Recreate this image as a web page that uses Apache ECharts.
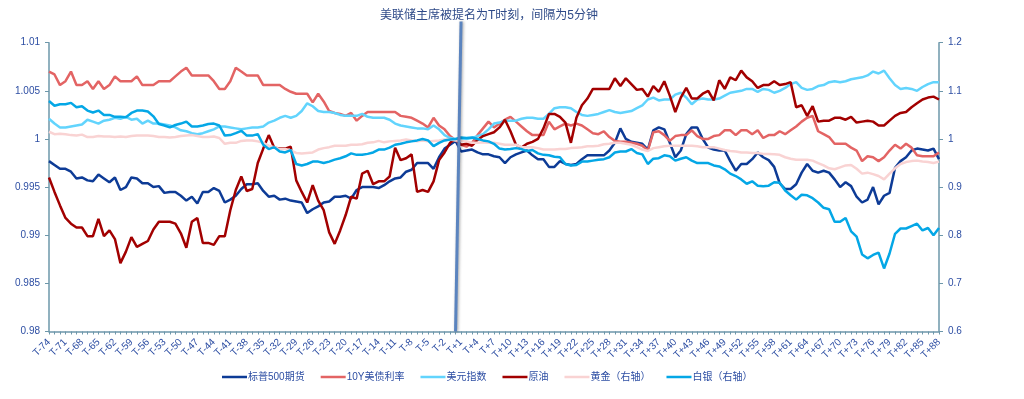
<!DOCTYPE html>
<html>
<head>
<meta charset="utf-8">
<title>美联储主席被提名前后各资产走势</title>
<script src="https://cdn.jsdelivr.net/npm/echarts@6/dist/echarts.min.js"></script>
<style>
  html, body { margin: 0; padding: 0; background: #fff; }
  #chart { width: 1024px; height: 399px; }
</style>
</head>
<body>
<div id="chart"></div>
<script>
// 时间轴：T-74 ... T ... T+88，每格5分钟
const offsets = []
for (let k = -74; k <= 88; k++) offsets.push(k)
const categories = offsets.map(k => (k === 0 ? 'T' : (k > 0 ? 'T+' + k : 'T' + k)))

// 左轴
const sp500 = [
  0.9977, 0.9973, 0.9969, 0.9969, 0.9966, 0.9959, 0.9960, 0.9957, 0.9956, 0.9963,
  0.9959, 0.9955, 0.9960, 0.9947, 0.9950, 0.9960, 0.9959, 0.9954, 0.9954, 0.9950,
  0.9951, 0.9944, 0.9945, 0.9945, 0.9941, 0.9936, 0.9940, 0.9933, 0.9945, 0.9945,
  0.9949, 0.9946, 0.9934, 0.9937, 0.9941, 0.9948, 0.9953, 0.9953, 0.9954, 0.9946,
  0.9940, 0.9941, 0.9937, 0.9938, 0.9936, 0.9935, 0.9934, 0.9923, 0.9927, 0.9930,
  0.9934, 0.9935, 0.9940, 0.9940, 0.9941, 0.9938, 0.9947, 0.9950, 0.9950, 0.9950,
  0.9949, 0.9952, 0.9956, 0.9959, 0.9960, 0.9966, 0.9968, 0.9975, 0.9975, 0.9975,
  0.9969, 0.9981, 0.9990, 0.9994, 0.9998, 0.9987, 0.9988, 0.9989, 0.9986, 0.9984,
  0.9984, 0.9982, 0.9981, 0.9975, 0.9981, 0.9984, 0.9986, 0.9988, 0.9983, 0.9979,
  0.9979, 0.9971, 0.9971, 0.9977, 0.9974, 0.9973, 0.9974, 0.9979, 0.9983, 0.9983,
  0.9983, 0.9983, 0.9988, 0.9996, 1.0011, 1.0000, 0.9997, 0.9996, 0.9995, 0.9989,
  1.0009, 1.0012, 1.0010, 0.9996, 0.9981, 0.9988, 1.0005, 1.0012, 1.0012, 1.0000,
  0.9991, 0.9989, 0.9988, 0.9988, 0.9977, 0.9967, 0.9974, 0.9974, 0.9979, 0.9986,
  0.9981, 0.9978, 0.9971, 0.9954, 0.9948, 0.9948, 0.9953, 0.9965, 0.9974, 0.9967,
  0.9965, 0.9967, 0.9965, 0.9958, 0.9950, 0.9955, 0.9951, 0.9940, 0.9934, 0.9937,
  0.9950, 0.9932, 0.9941, 0.9944, 0.9970, 0.9977, 0.9981, 0.9988, 0.9990, 0.9989,
  0.9988, 0.9990, 0.9979
]
const us10y = [
  1.0070, 1.0067, 1.0056, 1.0060, 1.0070, 1.0056, 1.0056, 1.0060, 1.0052, 1.0060,
  1.0052, 1.0056, 1.0065, 1.0060, 1.0060, 1.0060, 1.0065, 1.0056, 1.0056, 1.0056,
  1.0060, 1.0060, 1.0060, 1.0065, 1.0070, 1.0074, 1.0066, 1.0066, 1.0066, 1.0066,
  1.0060, 1.0052, 1.0052, 1.0060, 1.0074, 1.0070, 1.0066, 1.0066, 1.0066, 1.0056,
  1.0056, 1.0056, 1.0056, 1.0052, 1.0049, 1.0047, 1.0047, 1.0047, 1.0038, 1.0047,
  1.0039, 1.0029, 1.0027, 1.0026, 1.0024, 1.0027, 1.0019, 1.0024, 1.0028, 1.0028,
  1.0028, 1.0028, 1.0028, 1.0028, 1.0024, 1.0023, 1.0022, 1.0019, 1.0016, 1.0012,
  1.0022, 1.0014, 1.0010, 1.0003, 0.9999, 0.9994, 0.9992, 0.9996, 1.0004, 1.0011,
  1.0018, 1.0012, 1.0016, 1.0020, 1.0023, 1.0018, 1.0013, 1.0008, 1.0004, 1.0004,
  1.0004, 1.0018, 1.0010, 1.0013, 1.0016, 1.0014, 1.0016, 1.0014, 1.0010, 1.0006,
  1.0005, 1.0008, 1.0002, 0.9998, 0.9997, 0.9997, 0.9996, 0.9995, 0.9993, 0.9988,
  1.0007, 1.0008, 1.0004, 0.9998, 1.0003, 1.0004, 1.0004, 1.0009, 1.0003, 1.0000,
  1.0000, 1.0003, 1.0004, 1.0009, 1.0009, 1.0004, 1.0009, 1.0009, 1.0005, 1.0009,
  1.0001, 1.0004, 1.0004, 1.0008, 1.0005, 1.0009, 1.0013, 1.0018, 1.0022, 1.0024,
  1.0008, 1.0005, 1.0002, 0.9995, 0.9995, 0.9995, 0.9991, 0.9988, 0.9977, 0.9982,
  0.9981, 0.9977, 0.9981, 0.9988, 0.9994, 0.9990, 0.9995, 0.9991, 0.9983, 0.9982,
  0.9982, 0.9982, 0.9986
]
const usd = [
  1.0021, 1.0016, 1.0012, 1.0012, 1.0013, 1.0014, 1.0015, 1.0020, 1.0018, 1.0016,
  1.0019, 1.0020, 1.0022, 1.0021, 1.0023, 1.0020, 1.0021, 1.0016, 1.0019, 1.0016,
  1.0016, 1.0015, 1.0014, 1.0012, 1.0009, 1.0008, 1.0006, 1.0005, 1.0006, 1.0008,
  1.0010, 1.0013, 1.0013, 1.0012, 1.0011, 1.0010, 1.0011, 1.0012, 1.0012, 1.0013,
  1.0017, 1.0019, 1.0022, 1.0024, 1.0022, 1.0024, 1.0029, 1.0037, 1.0034, 1.0029,
  1.0028, 1.0028, 1.0027, 1.0025, 1.0024, 1.0024, 1.0024, 1.0026, 1.0023, 1.0022,
  1.0022, 1.0022, 1.0020, 1.0016, 1.0014, 1.0013, 1.0012, 1.0011, 1.0011, 1.0010,
  1.0014, 1.0010, 1.0004, 1.0001, 1.0000, 1.0000, 1.0000, 1.0001, 1.0003, 1.0005,
  1.0010, 1.0016, 1.0017, 1.0019, 1.0019, 1.0019, 1.0021, 1.0022, 1.0022, 1.0021,
  1.0021, 1.0026, 1.0032, 1.0033, 1.0033, 1.0032, 1.0028, 1.0025, 1.0024, 1.0025,
  1.0026, 1.0028, 1.0030, 1.0028, 1.0027, 1.0028, 1.0029, 1.0032, 1.0035, 1.0041,
  1.0043, 1.0040, 1.0041, 1.0041, 1.0046, 1.0048, 1.0043, 1.0036, 1.0041, 1.0042,
  1.0041, 1.0041, 1.0042, 1.0045, 1.0048, 1.0049, 1.0050, 1.0052, 1.0052, 1.0049,
  1.0052, 1.0051, 1.0048, 1.0050, 1.0053, 1.0057, 1.0059, 1.0053, 1.0051, 1.0052,
  1.0055, 1.0056, 1.0059, 1.0060, 1.0059, 1.0060, 1.0062, 1.0063, 1.0064, 1.0066,
  1.0070, 1.0068, 1.0071, 1.0063, 1.0056, 1.0052, 1.0053, 1.0052, 1.0050, 1.0054,
  1.0057, 1.0059, 1.0059
]
const crude = [
  0.9960, 0.9945, 0.9931, 0.9918, 0.9912, 0.9908, 0.9908, 0.9899, 0.9899, 0.9917,
  0.9899, 0.9905, 0.9896, 0.9871, 0.9883, 0.9898, 0.9888, 0.9891, 0.9894, 0.9906,
  0.9914, 0.9914, 0.9914, 0.9912, 0.9902, 0.9887, 0.9914, 0.9918, 0.9892, 0.9892,
  0.9890, 0.9899, 0.9899, 0.9926, 0.9947, 0.9961, 0.9946, 0.9948, 0.9975, 0.9990,
  1.0004, 0.9991, 0.9990, 0.9990, 0.9992, 0.9957, 0.9945, 0.9934, 0.9952, 0.9936,
  0.9926, 0.9903, 0.9891, 0.9905, 0.9921, 0.9940, 0.9938, 0.9964, 0.9967, 0.9953,
  0.9956, 0.9956, 0.9961, 0.9991, 0.9978, 0.9980, 0.9984, 0.9945, 0.9947, 0.9945,
  0.9956, 0.9978, 0.9986, 0.9996, 1.0000, 0.9994, 0.9995, 0.9993, 0.9999, 1.0003,
  1.0005, 1.0007, 1.0012, 1.0020, 1.0008, 0.9994, 0.9991, 0.9995, 0.9997, 1.0000,
  1.0011, 1.0026, 1.0026, 1.0023, 1.0017, 0.9996, 1.0022, 1.0035, 1.0042, 1.0052,
  1.0052, 1.0052, 1.0052, 1.0063, 1.0055, 1.0063, 1.0057, 1.0051, 1.0052, 1.0044,
  1.0055, 1.0049, 1.0060, 1.0045, 1.0028, 1.0043, 1.0053, 1.0042, 1.0042, 1.0047,
  1.0050, 1.0040, 1.0061, 1.0052, 1.0064, 1.0061, 1.0071, 1.0064, 1.0060, 1.0053,
  1.0056, 1.0056, 1.0060, 1.0056, 1.0057, 1.0059, 1.0033, 1.0035, 1.0024, 1.0034,
  1.0018, 1.0019, 1.0019, 1.0022, 1.0022, 1.0020, 1.0023, 1.0017, 1.0018, 1.0019,
  1.0018, 1.0014, 1.0014, 1.0019, 1.0024, 1.0027, 1.0028, 1.0033, 1.0037, 1.0041,
  1.0043, 1.0044, 1.0041
]
// 右轴
const gold = [
  1.015, 1.010, 1.011, 1.010, 1.008, 1.007, 1.009, 1.004, 1.004, 1.006,
  1.005, 1.005, 1.004, 1.005, 1.004, 1.006, 1.007, 1.007, 1.007, 1.006,
  1.004, 1.004, 1.003, 1.004, 1.006, 1.007, 1.008, 1.006, 1.004, 1.004,
  1.005, 1.002, 0.990, 0.992, 0.992, 0.996, 0.997, 0.997, 0.995, 0.992,
  0.986, 0.983, 0.979, 0.979, 0.976, 0.971, 0.970, 0.971, 0.972, 0.978,
  0.981, 0.983, 0.986, 0.986, 0.986, 0.988, 0.988, 0.989, 0.992, 0.993,
  0.996, 0.993, 0.995, 0.996, 0.997, 0.999, 0.997, 0.995, 0.997, 0.995,
  0.996, 0.997, 0.999, 0.999, 0.997, 0.996, 0.995, 0.992, 0.992, 0.993,
  0.992, 0.992, 0.990, 0.988, 0.988, 0.988, 0.983, 0.983, 0.983, 0.981,
  0.978, 0.978, 0.978, 0.979, 0.979, 0.981, 0.982, 0.983, 0.985, 0.985,
  0.986, 0.989, 0.990, 0.992, 0.992, 0.990, 0.988, 0.983, 0.978, 0.975,
  0.981, 0.983, 0.985, 0.986, 0.986, 0.986, 0.986, 0.986, 0.985, 0.983,
  0.983, 0.983, 0.980, 0.977, 0.975, 0.974, 0.972, 0.972, 0.971, 0.971,
  0.969, 0.969, 0.968, 0.967, 0.962, 0.959, 0.957, 0.957, 0.957, 0.955,
  0.950, 0.945, 0.939, 0.937, 0.941, 0.945, 0.946, 0.938, 0.928, 0.930,
  0.927, 0.923, 0.916, 0.928, 0.939, 0.948, 0.952, 0.954, 0.955, 0.953,
  0.952, 0.950, 0.953
]
const silver = [
  1.079, 1.069, 1.072, 1.072, 1.075, 1.066, 1.068, 1.059, 1.055, 1.059,
  1.050, 1.050, 1.046, 1.046, 1.045, 1.054, 1.059, 1.059, 1.057, 1.047,
  1.031, 1.028, 1.024, 1.029, 1.032, 1.036, 1.026, 1.026, 1.028, 1.031,
  1.032, 1.028, 1.007, 1.008, 1.012, 1.017, 1.007, 1.007, 1.010, 0.988,
  0.979, 0.983, 0.974, 0.972, 0.977, 0.948, 0.945, 0.948, 0.953, 0.953,
  0.950, 0.953, 0.957, 0.960, 0.964, 0.970, 0.967, 0.967, 0.969, 0.972,
  0.978, 0.978, 0.982, 0.988, 0.990, 0.993, 0.995, 0.997, 1.000, 0.997,
  0.985, 0.992, 0.997, 0.999, 1.000, 1.003, 1.002, 1.003, 1.000, 0.997,
  0.995, 0.990, 0.980, 0.978, 0.979, 0.981, 0.979, 0.975, 0.977, 0.970,
  0.967, 0.966, 0.963, 0.962, 0.948, 0.945, 0.946, 0.953, 0.953, 0.955,
  0.957, 0.958, 0.962, 0.972, 0.974, 0.974, 0.979, 0.971, 0.968, 0.948,
  0.959, 0.960, 0.966, 0.964, 0.955, 0.959, 0.962, 0.955, 0.950, 0.950,
  0.950, 0.945, 0.943, 0.937, 0.928, 0.923, 0.916, 0.907, 0.912, 0.903,
  0.902, 0.903, 0.910, 0.909, 0.893, 0.883, 0.874, 0.884, 0.883, 0.877,
  0.868, 0.857, 0.854, 0.828, 0.828, 0.836, 0.808, 0.797, 0.760, 0.752,
  0.759, 0.764, 0.731, 0.762, 0.803, 0.814, 0.814, 0.819, 0.824, 0.810,
  0.815, 0.800, 0.815
]

// T时刻标记线（底部在T，顶部略偏到T+1，伸出绘图区）
const markerFrom = ['T', 0.98]
const markerTo = ['T+1', 1.0122]

const leftTicks = [0.98, 1.01, 0.005]
const rightTicks = [0.6, 1.2, 0.1]

const FONT = "'Liberation Sans', 'Noto Sans CJK SC', sans-serif"
const AXIS_COLOR = '#6d97aa'
const LABEL_COLOR = '#2d4ea3'

const chart = echarts.init(document.getElementById('chart'))

const lineSeries = (name, data, color, yAxisIndex) => ({
  name,
  type: 'line',
  data,
  yAxisIndex,
  symbol: 'none',
  smooth: false,
  lineStyle: { color, width: 2.5 },
  itemStyle: { color }
})

chart.setOption({
  animation: false,
  backgroundColor: '#fff',
  textStyle: { fontFamily: FONT },
  title: {
    text: '美联储主席被提名为T时刻，间隔为5分钟',
    left: 380,
    top: 10,
    padding: 0,
    textStyle: { fontSize: 12, fontWeight: 'normal', color: '#2e4a88', fontFamily: FONT }
  },
  legend: {
    left: 222,
    top: 372,
    padding: 0,
    icon: 'rect',
    itemWidth: 25,
    itemHeight: 2.5,
    itemGap: 16,
    textStyle: { fontSize: 10, color: LABEL_COLOR, fontFamily: FONT, padding: [0, 0, 0, -4] },
    data: ['标普500期货', '10Y美债利率', '美元指数', '原油', '黄金（右轴）', '白银（右轴）']
  },
  grid: {
    left: 49,
    right: 85,
    top: 42.7,
    bottom: 67.5,
    outerBoundsMode: 'none'
  },
  xAxis: {
    type: 'category',
    data: categories,
    boundaryGap: false,
    axisLine: { show: true, lineStyle: { color: AXIS_COLOR, width: 1.5 } },
    axisTick: { show: true, interval: 0, length: 3, lineStyle: { color: AXIS_COLOR } },
    axisLabel: { interval: 2, rotate: 45, fontSize: 10, color: LABEL_COLOR, margin: 9, fontFamily: FONT },
    splitLine: { show: false }
  },
  yAxis: [
    {
      type: 'value',
      min: leftTicks[0],
      max: leftTicks[1],
      interval: leftTicks[2],
      axisLine: { show: true, lineStyle: { color: AXIS_COLOR, width: 1.5 } },
      axisTick: { show: true, length: 4, lineStyle: { color: AXIS_COLOR } },
      axisLabel: { fontSize: 10, color: LABEL_COLOR, margin: 9, fontFamily: FONT },
      splitLine: { show: false }
    },
    {
      type: 'value',
      min: rightTicks[0],
      max: rightTicks[1],
      interval: rightTicks[2],
      position: 'right',
      axisLine: { show: true, lineStyle: { color: AXIS_COLOR, width: 1.5 } },
      axisTick: { show: true, length: 4, lineStyle: { color: AXIS_COLOR } },
      axisLabel: { fontSize: 10, color: LABEL_COLOR, margin: 9, fontFamily: FONT },
      splitLine: { show: false }
    }
  ],
  series: [
    lineSeries('标普500期货', sp500, '#0d3b96', 0),
    lineSeries('10Y美债利率', us10y, '#e36464', 0),
    lineSeries('美元指数', usd, '#62d4fd', 0),
    lineSeries('原油', crude, '#a20000', 0),
    lineSeries('黄金（右轴）', gold, '#f9d3d3', 1),
    lineSeries('白银（右轴）', silver, '#04a7e6', 1),
    {
      name: 'T时刻',
      type: 'line',
      yAxisIndex: 0,
      data: [markerFrom, markerTo],
      symbol: 'none',
      clip: false,
      z: 5,
      silent: true,
      lineStyle: {
        color: '#5b84bf',
        width: 3,
        shadowColor: 'rgba(0,0,0,0.35)',
        shadowBlur: 3,
        shadowOffsetX: 1
      }
    }
  ]
})
</script>
</body>
</html>
